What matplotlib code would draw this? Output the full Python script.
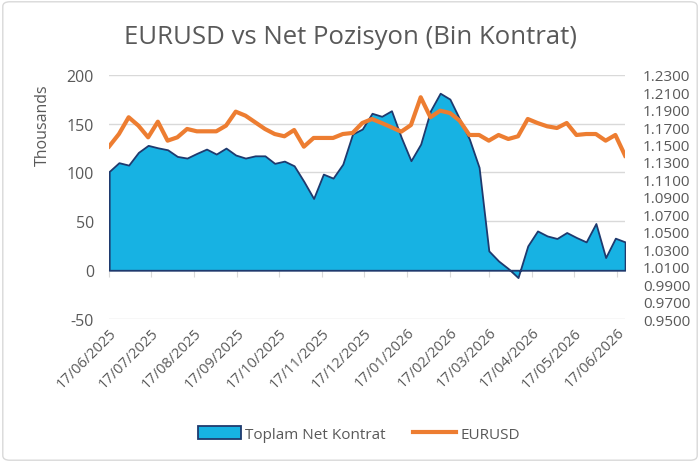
import matplotlib

matplotlib.use("Agg")
import matplotlib.pyplot as plt
import matplotlib.dates as mdates
import matplotlib.ticker as mticker
from matplotlib.patches import FancyBboxPatch
import pandas as pd

plt.rcParams["font.family"] = ["Open Sans", "DejaVu Sans"]
plt.rcParams["axes.unicode_minus"] = False

# weekly COT dates (Tuesdays), 54 points
start_date = "2025-06-17"
n_weeks = 54

# Toplam Net Kontrat, in thousands of contracts
net_position = [
    101, 110, 107.5, 120.5, 127.7, 125.2, 123.2, 116.4, 114.7, 119.5,
    123.9, 118.8, 124.9, 117.8, 114.7, 117, 117, 109.3, 111.6, 106.8,
    90.8, 73.4, 98.3, 94.2, 108.5, 139.3, 144.4, 160.5, 157.4, 163.1,
    135.9, 112, 129, 163, 181, 175, 154.6, 134.2, 105.2, 19.8,
    9.5, 1.7, -7.5, 24.9, 40.2, 35.1, 32.5, 38.6, 33.5, 29,
    47.8, 13, 32.8, 29,
]

eurusd = [
    1.1479, 1.1620, 1.1812, 1.1716, 1.1582, 1.1761, 1.1544, 1.1582, 1.1678, 1.1651,
    1.1651, 1.1651, 1.1716, 1.1876, 1.1830, 1.1754, 1.1678, 1.1620, 1.1594, 1.1666,
    1.1475, 1.1575, 1.1575, 1.1575, 1.1620, 1.1632, 1.1746, 1.1792, 1.1746, 1.1697,
    1.1647, 1.1723, 1.2041, 1.1812, 1.1887, 1.1861, 1.1773, 1.1609, 1.1609, 1.1544,
    1.1609, 1.1563, 1.1594, 1.1792, 1.1746, 1.1708, 1.1689, 1.1746, 1.1609, 1.1620,
    1.1620, 1.1544, 1.1609, 1.1372,
]

dates = pd.date_range(start_date, periods=n_weeks, freq="7D")
month_ticks = pd.date_range(start_date, "2026-06-17", freq=pd.DateOffset(months=1))

left_ticks = [-50, 0, 50, 100, 150, 200]
right_ticks = [0.95, 0.97, 0.99, 1.01, 1.03, 1.05, 1.07, 1.09, 1.11, 1.13,
               1.15, 1.17, 1.19, 1.21, 1.23]

GRAY_TEXT = "#595959"
GRID = "#D9D9D9"
BLUE = "#17B2E3"
NAVY = "#1F3A6E"
ORANGE = "#ED7D31"

fig = plt.figure(figsize=(7, 4.64), dpi=100)
ax = fig.add_axes([0.156, 0.31, 0.737, 0.527])

ax.fill_between(dates, net_position, 0, facecolor=BLUE, edgecolor=NAVY,
                linewidth=1.3, label="Toplam Net Kontrat", zorder=2)
ax.set_ylim(left_ticks[0], left_ticks[-1])
ax.set_yticks(left_ticks)
ax.set_xlim(dates[0], dates[-1])
ax.grid(axis="y", color=GRID, linewidth=1)
ax.set_axisbelow(True)
for s in ax.spines.values():
    s.set_visible(False)
ax.tick_params(axis="y", length=0, pad=11, labelsize=11.5, labelcolor=GRAY_TEXT)

# date labels at the bottom, tick marks on the zero line
ax.set_xticks(month_ticks)
ax.xaxis.set_major_formatter(mdates.DateFormatter("%d/%m/%Y"))
ax.tick_params(axis="x", length=0, pad=4, labelsize=10.5, labelcolor=GRAY_TEXT)
for lbl in ax.get_xticklabels():
    lbl.set_rotation(45)
    lbl.set_ha("right")
    lbl.set_rotation_mode("anchor")

zero_axis = ax.secondary_xaxis(50 / 250)
zero_axis.set_xticks(month_ticks)
zero_axis.set_xticklabels([])
zero_axis.tick_params(axis="x", direction="out", length=5, color=GRID)
zero_axis.spines["bottom"].set_color("#BFBFBF")
zero_axis.spines["bottom"].set_zorder(5)

ax2 = ax.twinx()
ax2.plot(dates, eurusd, color=ORANGE, linewidth=3, label="EURUSD",
         solid_joinstyle="round")
ax2.set_ylim(right_ticks[0], right_ticks[-1])
ax2.set_yticks(right_ticks)
ax2.yaxis.set_major_formatter(mticker.FormatStrFormatter("%.4f"))
for s in ax2.spines.values():
    s.set_visible(False)
ax2.tick_params(axis="y", length=0, pad=13, labelsize=11, labelcolor=GRAY_TEXT)

fig.text(43 / 700, 1 - 125 / 464, "Thousands", rotation=90, ha="center",
         va="center", fontsize=11.5, color=GRAY_TEXT)
fig.suptitle("EURUSD vs Net Pozisyon (Bin Kontrat)", y=1 - 38 / 464,
             va="center", fontsize=18.5, color=GRAY_TEXT)

h1, l1 = ax.get_legend_handles_labels()
h2, l2 = ax2.get_legend_handles_labels()
fig.legend(h1 + h2, l1 + l2, loc="center", bbox_to_anchor=(359 / 700, 1 - 435 / 464),
           ncol=2, frameon=False, fontsize=11, labelcolor=GRAY_TEXT,
           handlelength=2.8, handleheight=0.9, handletextpad=0.3, columnspacing=1.8)

fig.patches.append(FancyBboxPatch((0.004, 0.006), 0.992, 0.988,
                                  boxstyle="round,pad=0,rounding_size=0.01",
                                  transform=fig.transFigure, facecolor="none",
                                  edgecolor=GRID, linewidth=1))

fig.savefig("out.png", dpi=100)
